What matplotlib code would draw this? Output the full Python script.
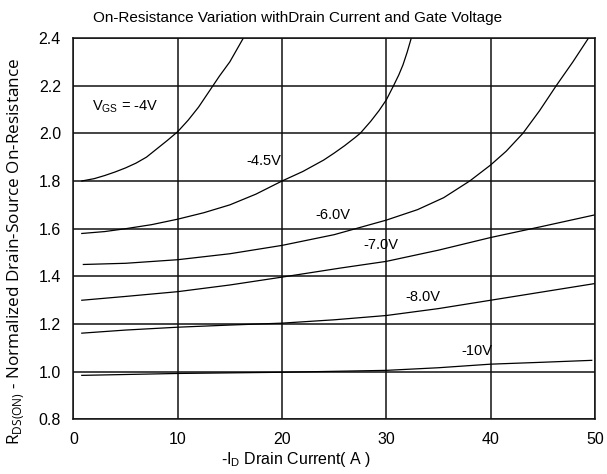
import matplotlib
matplotlib.use("Agg")
import matplotlib.pyplot as plt

# curves: -ID (A) vs normalized RDS(on)
x_4v = [0.8, 2, 3, 4, 5, 6, 7, 8, 9, 10, 11, 12, 13, 14, 15, 16.3]
y_4v = [1.80, 1.81, 1.823, 1.838, 1.855, 1.875, 1.90, 1.935, 1.97, 2.007,
        2.055, 2.11, 2.175, 2.24, 2.30, 2.40]

x_45v = [0.8, 3, 5, 7.5, 10, 12.5, 15, 17.5, 20, 22, 24, 25, 26, 27, 27.5,
         28.5, 29.3, 30, 30.7, 31.2, 31.6, 32.0, 32.4]
y_45v = [1.58, 1.588, 1.60, 1.617, 1.64, 1.667, 1.70, 1.745, 1.80, 1.84, 1.888,
         1.917, 1.948, 1.982, 2.00, 2.05, 2.095, 2.14, 2.20, 2.245, 2.287, 2.34, 2.40]

x_6v = [0.95, 5, 10, 15, 20, 25, 30, 33, 35.5, 38.0, 40.0, 41.5, 43.1, 44.7,
        46.3, 47.9, 49.4]
y_6v = [1.45, 1.455, 1.47, 1.495, 1.53, 1.575, 1.636, 1.68, 1.73, 1.80, 1.867,
        1.925, 2.00, 2.095, 2.20, 2.30, 2.40]

x_7v = [0.8, 5, 10, 15, 20, 25.6, 30, 35, 40, 45, 50]
y_7v = [1.30, 1.316, 1.336, 1.364, 1.397, 1.435, 1.463, 1.51, 1.563, 1.61, 1.658]

x_8v = [0.8, 5, 10, 15, 20, 25, 30, 35, 40, 45, 50]
y_8v = [1.162, 1.175, 1.187, 1.196, 1.204, 1.218, 1.236, 1.265, 1.30, 1.335, 1.37]

x_10v = [0.8, 10, 20, 25, 30, 35, 40, 45, 49.7]
y_10v = [0.985, 0.993, 0.998, 1.002, 1.006, 1.017, 1.032, 1.04, 1.048]

curves = [(x_4v, y_4v), (x_45v, y_45v), (x_6v, y_6v),
          (x_7v, y_7v), (x_8v, y_8v), (x_10v, y_10v)]

# curve labels and where they sit
labels = ['V$_{\\mathregular{GS}}$ = -4V', '-4.5V', '-6.0V', '-7.0V', '-8.0V', '-10V']
label_x = [1.8, 16.6, 23.2, 27.8, 31.8, 37.2]
label_y = [2.11, 1.884, 1.658, 1.532, 1.315, 1.089]

narrow = ['Liberation Sans', 'DejaVu Sans']

fig = plt.figure(figsize=(6.07, 4.74), dpi=100)
ax = fig.add_axes([0.121, 0.115, 0.859, 0.805])

for xs, ys in curves:
    ax.plot(xs, ys, color='black', lw=0.9)

for t, lx, ly in zip(labels, label_x, label_y):
    ax.text(lx, ly, t, fontsize=10.5, family=narrow, va='center', ha='left')

ax.set_xlim(0, 50)
ax.set_ylim(0.8, 2.4)
ax.set_xticks([0, 10, 20, 30, 40, 50])
ax.set_yticks([0.8, 1.0, 1.2, 1.4, 1.6, 1.8, 2.0, 2.2, 2.4])
ax.set_yticklabels(['0.8', '1.0', '1.2', '1.4', '1.6', '1.8', '2.0', '2.2', '2.4'])
ax.grid(True, color='#111111', lw=1.1)
ax.tick_params(length=0, pad=9, labelsize=11.5)
for lab in ax.get_xticklabels() + ax.get_yticklabels():
    lab.set_family(narrow)
for s in ax.spines.values():
    s.set_linewidth(1.1)
    s.set_color('#111111')

fig.text(0.491, 0.963, 'On-Resistance Variation withDrain Current and Gate Voltage',
         ha='center', va='center', fontsize=11, family=narrow)
fig.text(0.488, 0.031, '-I$_{\\mathregular{D}}$ Drain Current( A )',
         ha='center', va='center', fontsize=11.5, family=narrow)
fig.text(0.026, 0.47, 'R$_{\\mathregular{DS(ON)}}$ - Normalized Drain-Source On-Resistance',
         ha='center', va='center', rotation=90, fontsize=12.3, family='Open Sans')

fig.savefig('out.png', dpi=100)
